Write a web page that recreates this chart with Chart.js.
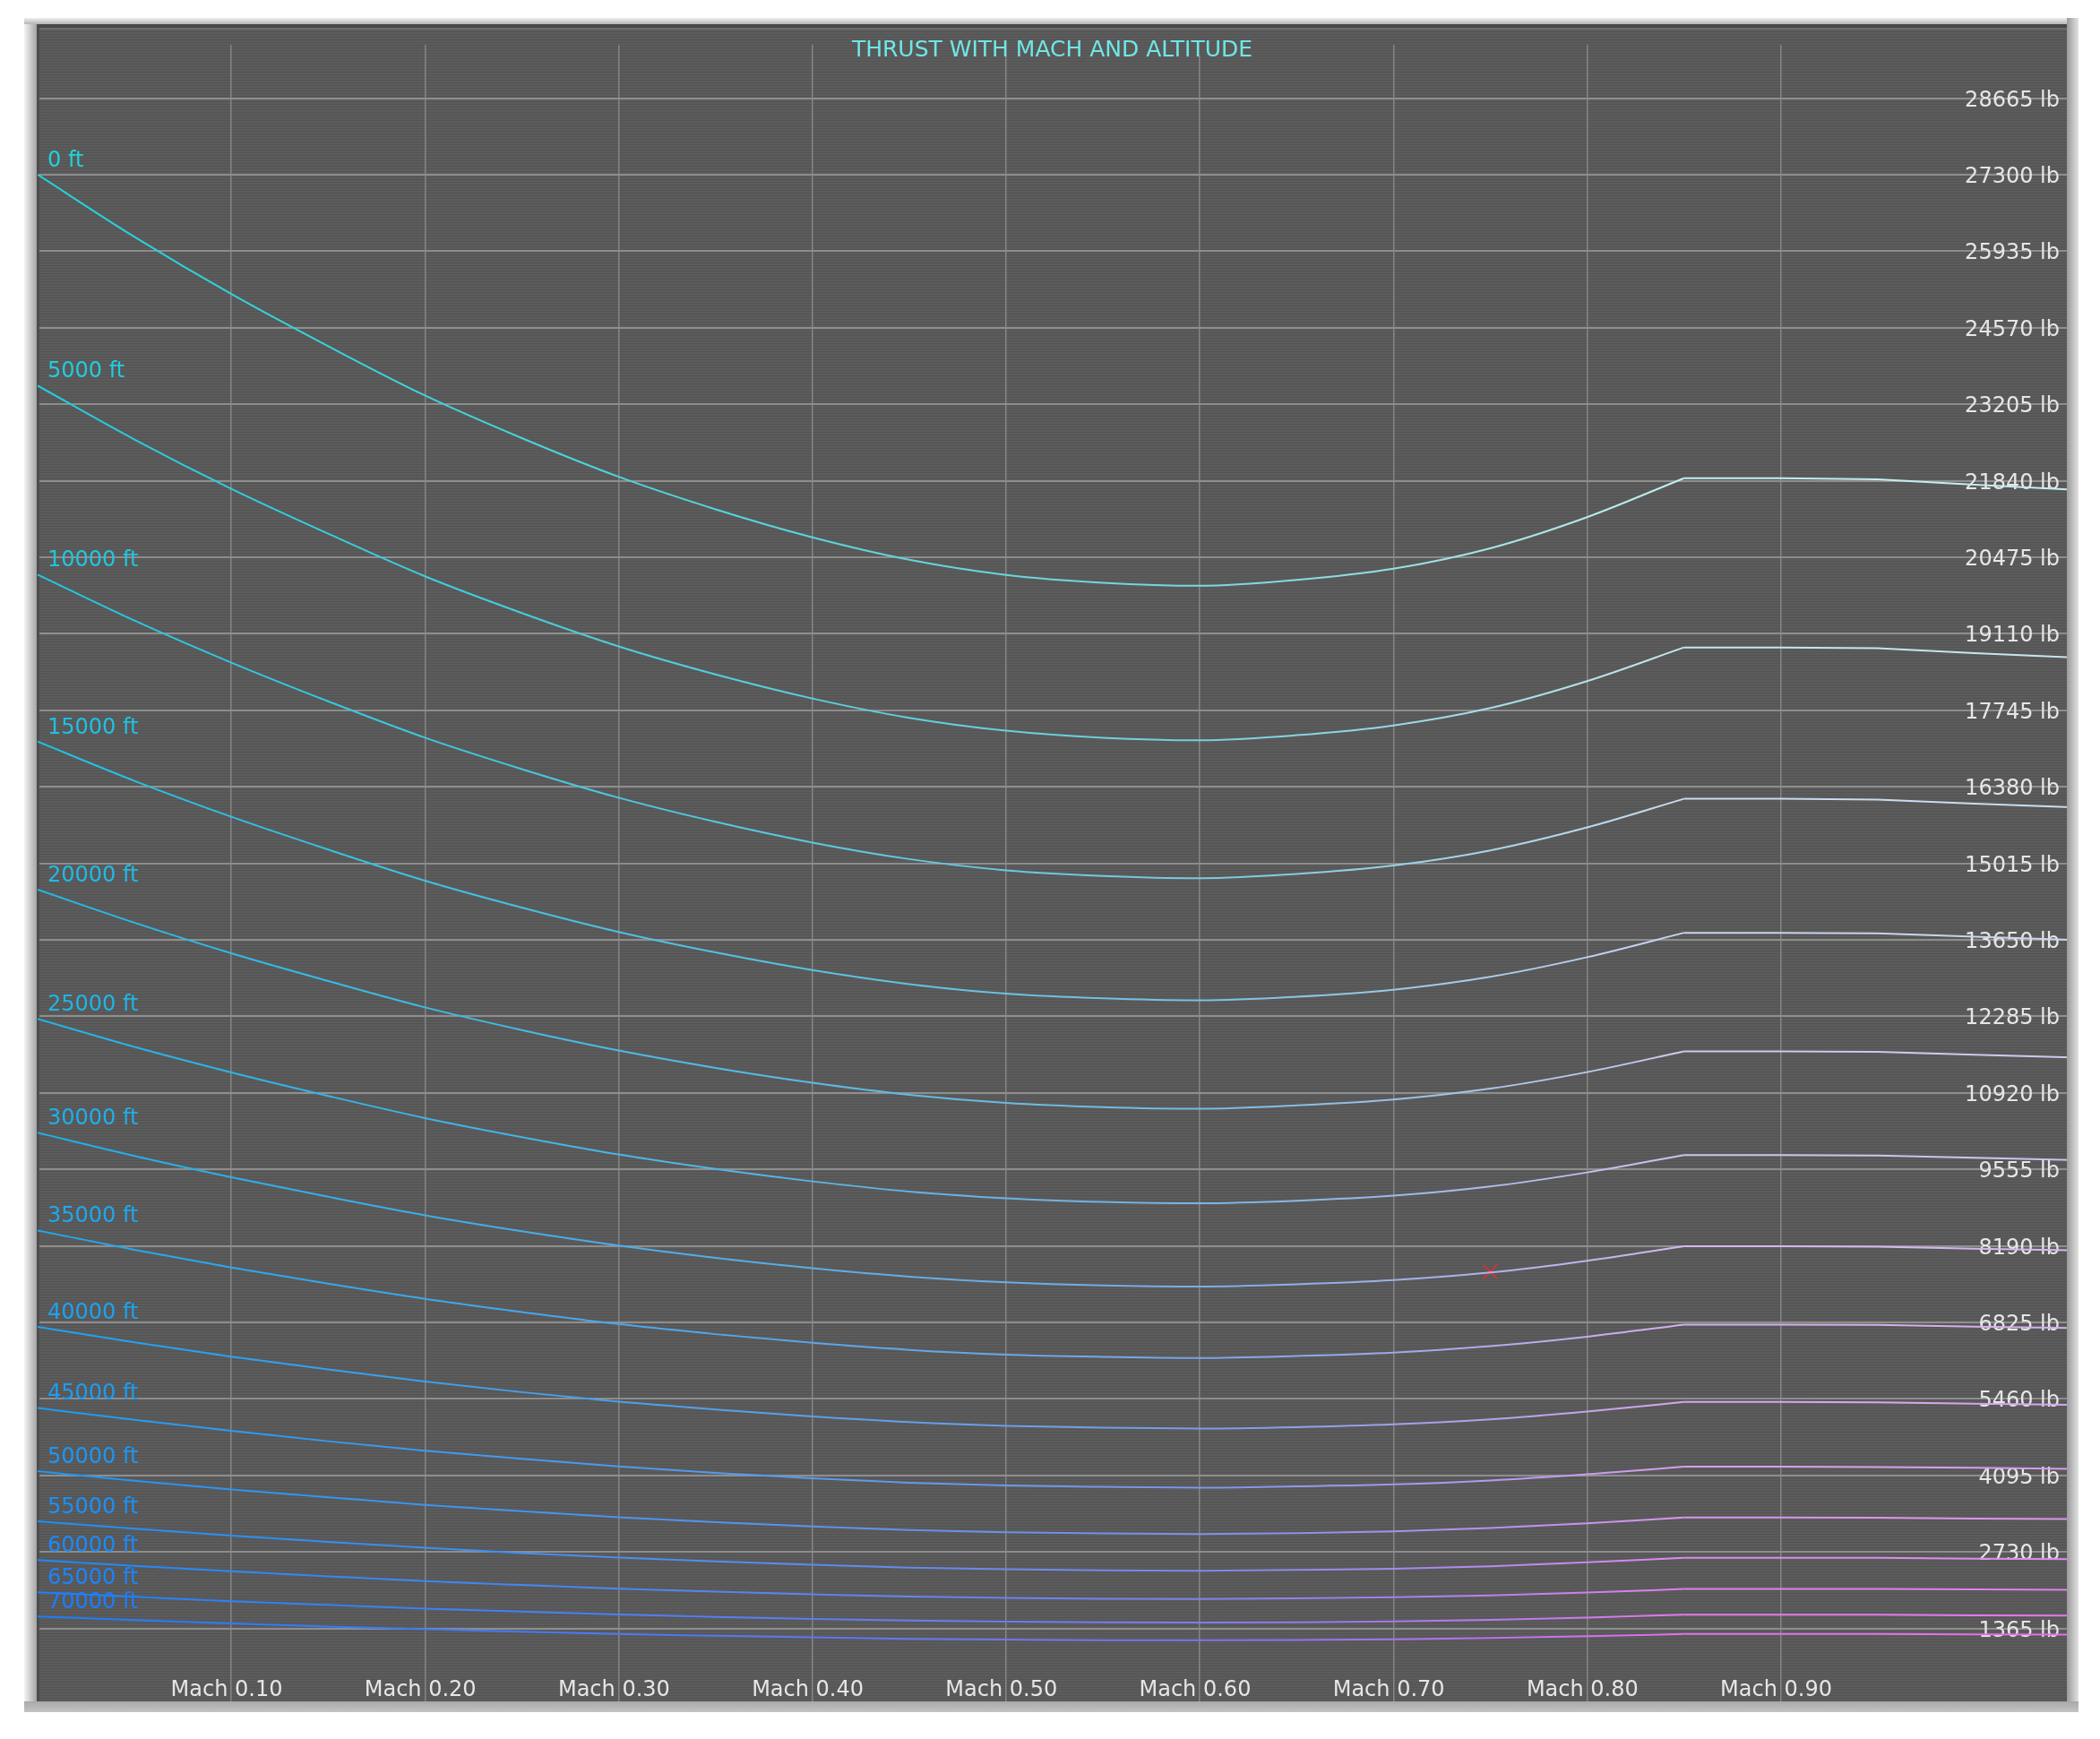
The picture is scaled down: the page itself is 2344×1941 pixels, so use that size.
<!DOCTYPE html>
<html lang="en">
<head>
  <meta charset="UTF-8" />
  <title>Thrust with Mach and Altitude</title>
  <script src="https://cdn.jsdelivr.net/npm/chart.js"></script>
  <style>
    html, body { margin: 0; padding: 0; background: #fff; }
    canvas { display: block; }
  </style>
</head>
<body>
  <canvas id="thrustChart" width="2344" height="1941"></canvas>

  <script>
    // Mach numbers the curves were read at
    const machPoints = [0, 0.05, 0.1, 0.15, 0.2, 0.25, 0.3, 0.35, 0.4, 0.45, 0.5, 0.55, 0.6, 0.65, 0.7, 0.75, 0.8, 0.85, 0.9, 0.95, 1.0, 1.05];
    // thrust stops rising here, the curve has a corner
    const kinkMach = 0.85;

    const altitudes = ['0 ft', '5000 ft', '10000 ft', '15000 ft', '20000 ft', '25000 ft', '30000 ft', '35000 ft',
      '40000 ft', '45000 ft', '50000 ft', '55000 ft', '60000 ft', '65000 ft', '70000 ft'];

    // Thrust (lb) per altitude
    const thrust0     = [27300, 26190, 25170, 24240, 23360, 22600, 21910, 21330, 20830, 20430, 20160, 20020, 19965, 20070, 20270, 20635, 21190, 21885, 21885, 21865, 21770, 21680];
    const thrust5000  = [23535, 22575, 21695, 20895, 20135, 19480, 18885, 18385, 17955, 17610, 17380, 17255, 17210, 17300, 17475, 17785, 18265, 18865, 18865, 18850, 18765, 18690];
    const thrust10000 = [20165, 19345, 18595, 17905, 17255, 16695, 16185, 15755, 15385, 15090, 14890, 14790, 14750, 14825, 14975, 15245, 15655, 16165, 16165, 16150, 16080, 16015];
    const thrust15000 = [17185, 16485, 15845, 15260, 14705, 14225, 13790, 13425, 13110, 12860, 12690, 12605, 12570, 12635, 12760, 12990, 13340, 13775, 13775, 13765, 13705, 13650];
    const thrust20000 = [14545, 13955, 13410, 12915, 12445, 12040, 11675, 11365, 11100, 10885, 10740, 10665, 10635, 10695, 10800, 10995, 11290, 11660, 11660, 11650, 11600, 11550];
    const thrust25000 = [12240, 11740, 11285, 10865, 10470, 10130, 9820, 9560, 9340, 9160, 9040, 8975, 8950, 8995, 9085, 9250, 9500, 9810, 9810, 9800, 9760, 9720];
    const thrust30000 = [10210, 9795, 9415, 9065, 8735, 8450, 8195, 7975, 7790, 7640, 7540, 7485, 7465, 7505, 7580, 7715, 7925, 8185, 8185, 8175, 8140, 8110];
    const thrust35000 = [8465, 8120, 7805, 7515, 7245, 7010, 6795, 6615, 6460, 6335, 6250, 6210, 6190, 6225, 6285, 6400, 6570, 6785, 6785, 6780, 6750, 6725];
    const thrust40000 = [6745, 6470, 6215, 5985, 5770, 5580, 5410, 5270, 5145, 5045, 4980, 4945, 4930, 4955, 5005, 5095, 5235, 5405, 5405, 5400, 5375, 5355];
    const thrust45000 = [5300, 5085, 4890, 4705, 4535, 4390, 4255, 4140, 4045, 3965, 3915, 3890, 3875, 3900, 3935, 4005, 4115, 4250, 4250, 4245, 4230, 4210];
    const thrust50000 = [4170, 4000, 3845, 3705, 3570, 3455, 3350, 3260, 3185, 3120, 3080, 3060, 3050, 3065, 3095, 3155, 3240, 3345, 3345, 3340, 3325, 3315];
    const thrust55000 = [3275, 3145, 3020, 2910, 2805, 2710, 2630, 2560, 2500, 2450, 2420, 2400, 2395, 2410, 2430, 2475, 2545, 2625, 2625, 2625, 2610, 2600];
    const thrust60000 = [2585, 2480, 2385, 2295, 2210, 2140, 2075, 2020, 1975, 1935, 1910, 1895, 1890, 1900, 1920, 1955, 2005, 2070, 2070, 2070, 2060, 2055];
    const thrust65000 = [2010, 1930, 1850, 1785, 1720, 1665, 1615, 1570, 1535, 1505, 1485, 1475, 1470, 1475, 1490, 1520, 1560, 1610, 1610, 1610, 1600, 1595];
    const thrust70000 = [1580, 1515, 1455, 1400, 1350, 1305, 1265, 1235, 1205, 1180, 1165, 1155, 1155, 1160, 1170, 1195, 1225, 1265, 1265, 1265, 1260, 1255];

    const thrustSeries = [thrust0, thrust5000, thrust10000, thrust15000, thrust20000, thrust25000, thrust30000, thrust35000,
      thrust40000, thrust45000, thrust50000, thrust55000, thrust60000, thrust65000, thrust70000];

    // Axis ticks
    const machTicks = [0.1, 0.2, 0.3, 0.4, 0.5, 0.6, 0.7, 0.8, 0.9];
    const thrustTicks = [1365, 2730, 4095, 5460, 6825, 8190, 9555, 10920, 12285, 13650, 15015, 16380, 17745, 19110,
      20475, 21840, 23205, 24570, 25935, 27300, 28665];

    // Current operating point (red cross)
    const markerMach = [0.75];
    const markerThrust = [7730];

    const FONT = '24px "DejaVu Sans"';

    // colours: top curve -> bottom curve, at left / middle / right of the plot
    const topColors = { left: [34, 210, 218], mid: [120, 214, 220], right: [196, 238, 238] };
    const bottomColors = { left: [26, 126, 255], mid: [124, 116, 240], right: [228, 112, 236] };

    function mix(a, b, t) {
      return 'rgb(' + a.map((v, k) => Math.round(v + (b[k] - v) * t)).join(',') + ')';
    }

    function curveColors(i) {
      const t = i / (altitudes.length - 1);
      return {
        left: mix(topColors.left, bottomColors.left, t),
        mid: mix(topColors.mid, bottomColors.mid, t),
        right: mix(topColors.right, bottomColors.right, t)
      };
    }

    function gradientFor(col) {
      return function (context) {
        const area = context.chart.chartArea;
        if (!area) return col.left;
        const g = context.chart.ctx.createLinearGradient(area.left, 0, area.right, 0);
        g.addColorStop(0, col.left);
        g.addColorStop(0.57, col.mid);
        g.addColorStop(0.81, col.right);
        g.addColorStop(1, col.right);
        return g;
      };
    }

    // scan-line texture of the plot background
    let stripes = null;
    function stripePattern(ctx) {
      if (!stripes) {
        const c = document.createElement('canvas');
        c.width = 4; c.height = 3;
        const p = c.getContext('2d');
        p.fillStyle = '#5c5c5c'; p.fillRect(0, 0, 4, 2);
        p.fillStyle = '#535353'; p.fillRect(0, 2, 4, 1);
        stripes = ctx.createPattern(c, 'repeat');
      }
      return stripes;
    }

    const kinkIndex = machPoints.indexOf(kinkMach);
    const curveDatasets = [];
    thrustSeries.forEach((values, i) => {
      const col = curveColors(i);
      const points = machPoints.map((m, k) => ({ x: m, y: values[k] }));
      // smooth part up to the corner
      curveDatasets.push({
        label: altitudes[i],
        data: points.slice(0, kinkIndex + 1),
        labelColor: col.left,
        borderColor: gradientFor(col),
        borderWidth: 2,
        pointRadius: 0,
        cubicInterpolationMode: 'monotone',
        fill: false
      });
      // flat part after the corner
      curveDatasets.push({
        label: altitudes[i] + ' (high Mach)',
        data: points.slice(kinkIndex),
        borderColor: gradientFor(col),
        borderWidth: 2,
        pointRadius: 0,
        tension: 0,
        fill: false
      });
    });

    const markerDatasets = [
      {
        type: 'scatter',
        label: 'marker',
        data: markerMach.map((m, k) => ({ x: m, y: markerThrust[k] })),
        pointStyle: 'crossRot',
        pointRadius: 11,
        pointBorderWidth: 1.5,
        pointBorderColor: 'rgba(255, 40, 40, 0.8)',
        showLine: false
      },
      {
        type: 'scatter',
        label: 'marker dot',
        data: markerMach.map((m, k) => ({ x: m, y: markerThrust[k] })),
        pointStyle: 'rect',
        pointRadius: 2.5,
        pointBorderWidth: 0,
        pointBackgroundColor: '#ff2020',
        showLine: false
      }
    ];

    // panel, title, tick labels, altitude labels, frame
    const panelPlugin = {
      id: 'panel',
      beforeDraw(chart) {
        const ctx = chart.ctx;
        ctx.save();
        ctx.fillStyle = '#ffffff';
        ctx.fillRect(0, 0, chart.width, chart.height);
        ctx.fillStyle = stripePattern(ctx);
        ctx.fillRect(41, 27, 2266, 1872);
        ctx.restore();
      },
      beforeDatasetsDraw(chart) {
        const ctx = chart.ctx;
        const xs = chart.scales.x;
        const ys = chart.scales.y;
        ctx.save();
        // vertical grid stops below the top edge, title has its own box
        ctx.fillStyle = stripePattern(ctx);
        ctx.fillRect(41, 27, 2266, 23);
        ctx.fillRect(940, 27, 470, 35);
        ctx.fillStyle = '#484848';
        ctx.fillRect(41, 27, 2266, 4);
        ctx.fillStyle = '#6c6c6c';
        ctx.fillRect(41, 31, 2266, 2);
        ctx.fillStyle = '#4c4c4c';
        ctx.fillRect(41, 27, 3, 1872);

        ctx.textBaseline = 'alphabetic';

        ctx.fillStyle = '#70e6e6';
        ctx.textAlign = 'center';
        ctx.font = '25px "DejaVu Sans"';
        ctx.fillText('THRUST WITH MACH AND ALTITUDE', (xs.left + 2307) / 2, 63);

        ctx.font = FONT;
        ctx.fillStyle = '#e6e6e6';
        ctx.textAlign = 'right';
        ys.ticks.forEach(t => {
          ctx.fillText(t.value + ' lb', 2299, ys.getPixelForValue(t.value) + 9);
        });

        ctx.textAlign = 'left';
        const gap = ctx.measureText('Mach ').width - ctx.measureText(' ').width / 2;
        xs.ticks.forEach(t => {
          ctx.fillText('Mach ' + t.value.toFixed(2), xs.getPixelForValue(t.value) - gap, 1893);
        });
        ctx.restore();
      },
      afterDatasetsDraw(chart) {
        const ctx = chart.ctx;
        ctx.save();
        ctx.font = FONT;
        ctx.textAlign = 'left';
        ctx.textBaseline = 'alphabetic';
        chart.data.datasets.forEach((ds, i) => {
          if (!ds.labelColor) return;
          const first = chart.getDatasetMeta(i).data[0];
          ctx.fillStyle = ds.labelColor;
          ctx.fillText(ds.label, 53, first.y - 9);
        });
        ctx.restore();
      },
      afterDraw(chart) {
        const ctx = chart.ctx;
        ctx.save();
        let g = ctx.createLinearGradient(27, 0, 41, 0);
        g.addColorStop(0, '#f4f4f4');
        g.addColorStop(1, '#a4a4a4');
        ctx.fillStyle = g;
        ctx.fillRect(27, 20, 14, 1891);

        g = ctx.createLinearGradient(0, 20, 0, 27);
        g.addColorStop(0, '#f0f0f0');
        g.addColorStop(1, '#b4b4b4');
        ctx.fillStyle = g;
        ctx.fillRect(27, 20, 2293, 7);

        g = ctx.createLinearGradient(2307, 0, 2320, 0);
        g.addColorStop(0, '#9a9a9a');
        g.addColorStop(1, '#e2e2e2');
        ctx.fillStyle = g;
        ctx.fillRect(2307, 20, 13, 1891);

        g = ctx.createLinearGradient(0, 1899, 0, 1911);
        g.addColorStop(0, '#a8a8a8');
        g.addColorStop(1, '#c4c4c4');
        ctx.fillStyle = g;
        ctx.fillRect(27, 1899, 2293, 12);
        ctx.restore();
      }
    };

    new Chart(document.getElementById('thrustChart'), {
      type: 'line',
      data: {
        datasets: curveDatasets.concat(markerDatasets)
      },
      options: {
        responsive: false,
        animation: false,
        layout: {
          autoPadding: false,
          padding: { left: 42, top: 26, right: 32, bottom: 38 }
        },
        plugins: {
          legend: { display: false },
          tooltip: { enabled: false }
        },
        scales: {
          x: {
            type: 'linear',
            min: 0,
            max: 1.05,
            afterBuildTicks: axis => { axis.ticks = machTicks.map(v => ({ value: v })); },
            ticks: { display: false },
            border: { display: false },
            grid: { color: '#858585', lineWidth: 1.5, drawTicks: false }
          },
          y: {
            type: 'linear',
            min: 0,
            max: 30000,
            afterBuildTicks: axis => { axis.ticks = thrustTicks.map(v => ({ value: v })); },
            ticks: { display: false },
            border: { display: false },
            grid: { color: '#8e8e8e', lineWidth: 2, drawTicks: false }
          }
        }
      },
      plugins: [panelPlugin]
    });
  </script>
</body>
</html>
